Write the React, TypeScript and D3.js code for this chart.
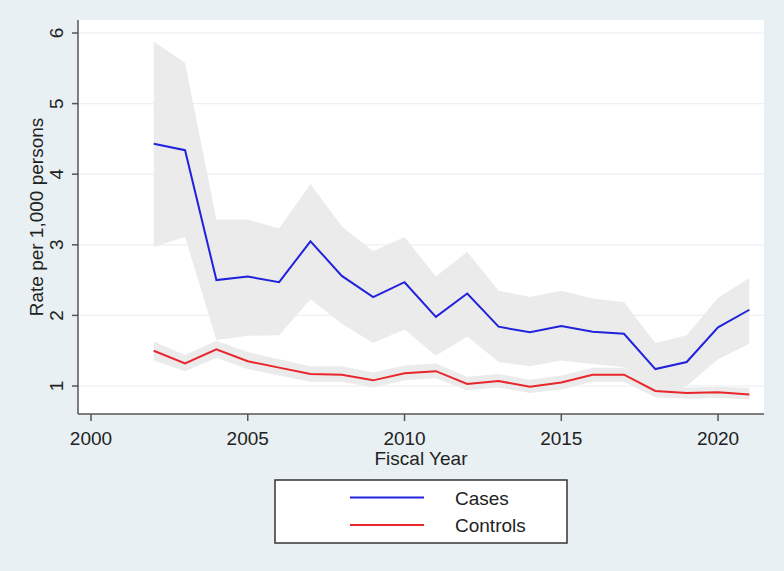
import React, { useEffect, useRef } from "react";
import * as d3 from "d3";

// fiscal years and the values
const years = [2002, 2003, 2004, 2005, 2006, 2007, 2008, 2009, 2010, 2011,
    2012, 2013, 2014, 2015, 2016, 2017, 2018, 2019, 2020, 2021];

const casesRate = [4.43, 4.34, 2.5, 2.55, 2.47, 3.05, 2.56, 2.26, 2.47, 1.98,
    2.31, 1.84, 1.76, 1.85, 1.77, 1.74, 1.24, 1.34, 1.83, 2.08];
const casesUpper = [5.88, 5.58, 3.36, 3.36, 3.23, 3.86, 3.26, 2.91, 3.11, 2.55,
    2.9, 2.35, 2.26, 2.35, 2.24, 2.19, 1.61, 1.72, 2.25, 2.53];
const casesLower = [2.97, 3.11, 1.65, 1.71, 1.72, 2.23, 1.88, 1.61, 1.8, 1.43,
    1.7, 1.34, 1.28, 1.36, 1.31, 1.27, 0.86, 1.0, 1.38, 1.6];

const controlsRate = [1.5, 1.32, 1.52, 1.35, 1.26, 1.17, 1.16, 1.08, 1.18, 1.21,
    1.03, 1.07, 0.99, 1.05, 1.16, 1.16, 0.93, 0.9, 0.91, 0.88];
const controlsUpper = [1.63, 1.44, 1.64, 1.48, 1.38, 1.28, 1.28, 1.19, 1.29, 1.32,
    1.13, 1.17, 1.09, 1.15, 1.26, 1.26, 1.01, 0.98, 0.99, 0.97];
const controlsLower = [1.36, 1.21, 1.4, 1.24, 1.15, 1.06, 1.06, 0.98, 1.08, 1.11,
    0.94, 0.98, 0.9, 0.95, 1.06, 1.06, 0.84, 0.82, 0.83, 0.81];

const xTicks = [2000, 2005, 2010, 2015, 2020];
const yTicks = [1, 2, 3, 4, 5, 6];

const legendItems = [
    { label: "Cases", color: "#2222dd" },
    { label: "Controls", color: "#e8262b" },
];

const FONT = "'Liberation Sans', Arial, sans-serif";

const App = () => {
    const svgRef = useRef<SVGSVGElement | null>(null);

    useEffect(() => {
        const W = 784, H = 571;
        const svg = d3.select(svgRef.current);
        svg.selectAll("*").remove();

        const plot = { left: 78, right: 764, top: 20, bottom: 414 };

        const x = d3.scaleLinear().domain([2000, 2021]).range([91, 749.4]);
        const y = d3.scaleLinear().domain([1, 6]).range([386, 33]);

        // page background
        svg.append("rect").attr("width", W).attr("height", H).attr("fill", "#e8f0f3");

        // white plot region
        svg.append("rect")
            .attr("x", plot.left).attr("y", plot.top)
            .attr("width", plot.right - plot.left).attr("height", plot.bottom - plot.top)
            .attr("fill", "#ffffff");

        // grid lines
        svg.append("g").selectAll("line")
            .data(yTicks).enter().append("line")
            .attr("x1", plot.left).attr("x2", plot.right)
            .attr("y1", d => y(d)).attr("y2", d => y(d))
            .attr("stroke", "#eaf0f3").attr("stroke-width", 1.2);

        const band = (lo: number[], hi: number[]) =>
            d3.area<number>()
                .x((_, i) => x(years[i]))
                .y0((_, i) => y(lo[i]))
                .y1((_, i) => y(hi[i]))(years.map((_, i) => i));

        const line = (vals: number[]) =>
            d3.line<number>()
                .x((_, i) => x(years[i]))
                .y((_, i) => y(vals[i]))(years.map((_, i) => i));

        // confidence bands
        svg.append("path").attr("d", band(casesLower, casesUpper)).attr("fill", "#ebebeb");
        svg.append("path").attr("d", band(controlsLower, controlsUpper)).attr("fill", "#ebebeb");

        // rate lines
        svg.append("path").attr("d", line(casesRate))
            .attr("fill", "none").attr("stroke", legendItems[0].color).attr("stroke-width", 2);
        svg.append("path").attr("d", line(controlsRate))
            .attr("fill", "none").attr("stroke", legendItems[1].color).attr("stroke-width", 2);

        // Y axis
        const yAxis = svg.append("g");
        yAxis.append("line")
            .attr("x1", plot.left).attr("x2", plot.left)
            .attr("y1", plot.top).attr("y2", plot.bottom)
            .attr("stroke", "#555").attr("stroke-width", 1.5);
        yAxis.selectAll(".tick").data(yTicks).enter().append("line")
            .attr("x1", plot.left - 6).attr("x2", plot.left)
            .attr("y1", d => y(d)).attr("y2", d => y(d))
            .attr("stroke", "#555").attr("stroke-width", 1.5);
        yAxis.selectAll(".lbl").data(yTicks).enter().append("text")
            .attr("transform", d => `translate(63, ${y(d)}) rotate(-90)`)
            .attr("text-anchor", "middle")
            .attr("font-family", FONT).attr("font-size", 19).attr("fill", "#222")
            .text(d => d);
        yAxis.append("text")
            .attr("transform", `translate(43, ${(plot.top + plot.bottom) / 2}) rotate(-90)`)
            .attr("text-anchor", "middle")
            .attr("font-family", FONT).attr("font-size", 19).attr("fill", "#222")
            .text("Rate per 1,000 persons");

        // X axis
        const xAxis = svg.append("g");
        xAxis.append("line")
            .attr("x1", plot.left).attr("x2", plot.right)
            .attr("y1", plot.bottom).attr("y2", plot.bottom)
            .attr("stroke", "#555").attr("stroke-width", 1.5);
        xAxis.selectAll(".tick").data(xTicks).enter().append("line")
            .attr("x1", d => x(d)).attr("x2", d => x(d))
            .attr("y1", plot.bottom).attr("y2", plot.bottom + 7)
            .attr("stroke", "#555").attr("stroke-width", 1.5);
        xAxis.selectAll(".lbl").data(xTicks).enter().append("text")
            .attr("x", d => x(d)).attr("y", 445)
            .attr("text-anchor", "middle")
            .attr("font-family", FONT).attr("font-size", 19).attr("fill", "#222")
            .text(d => d);
        xAxis.append("text")
            .attr("x", (plot.left + plot.right) / 2).attr("y", 465)
            .attr("text-anchor", "middle")
            .attr("font-family", FONT).attr("font-size", 19).attr("fill", "#222")
            .text("Fiscal Year");

        // legend
        const legend = svg.append("g");
        legend.append("rect")
            .attr("x", 275).attr("y", 480).attr("width", 292).attr("height", 63)
            .attr("fill", "#fff").attr("stroke", "#333").attr("stroke-width", 1.5);
        legendItems.forEach((item, i) => {
            const ly = 497.5 + i * 27.5;
            legend.append("line")
                .attr("x1", 350).attr("x2", 424).attr("y1", ly).attr("y2", ly)
                .attr("stroke", item.color).attr("stroke-width", 2);
            legend.append("text")
                .attr("x", 455).attr("y", ly + 7)
                .attr("font-family", FONT).attr("font-size", 19).attr("fill", "#222")
                .text(item.label);
        });
    }, []);

    return (
        <svg ref={svgRef} width={784} height={571}
            style={{ position: "absolute", left: 0, top: 0, display: "block" }} />
    );
};

export default App;
